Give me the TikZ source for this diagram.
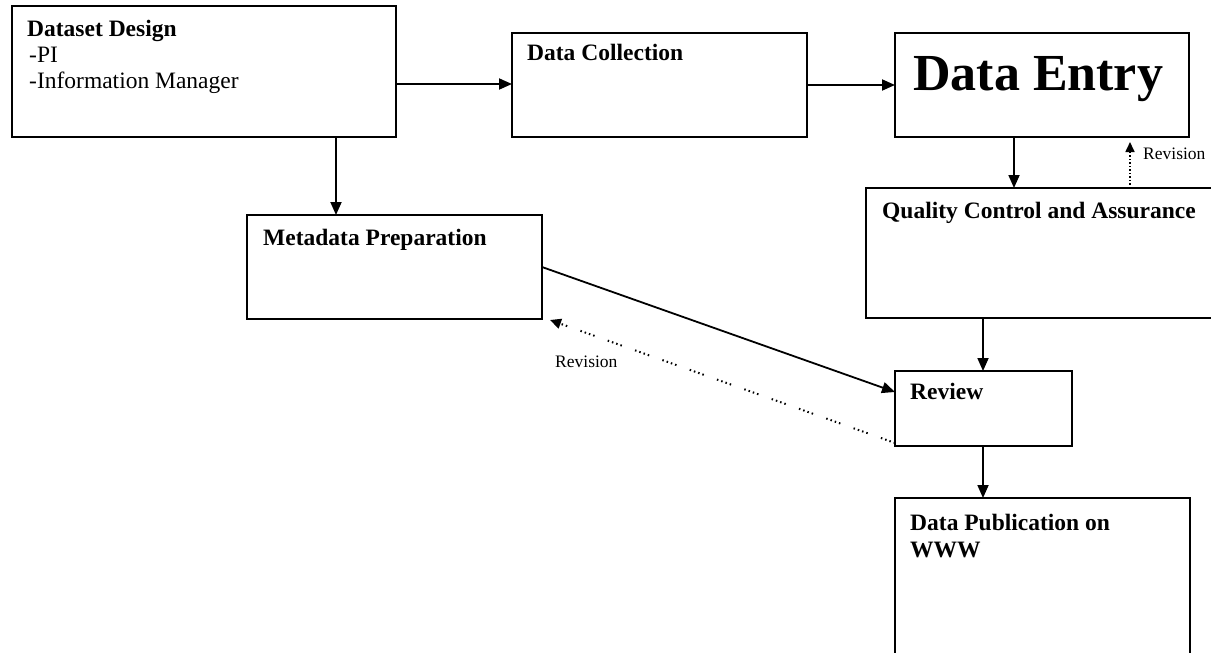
\documentclass[tikz,border=0pt]{standalone}
\usepackage{fontspec}
\setmainfont{Liberation Serif}
\usetikzlibrary{arrows.meta}

\tikzset{
	box/.style={draw, line width=2pt, anchor=north west, inner sep=0pt, outer sep=0pt},
	ttl/.style={font=\fontsize{23.5}{27}\selectfont\bfseries, anchor=base west, inner sep=0pt},
	txt/.style={font=\fontsize{23.5}{27}\selectfont, anchor=base west, inner sep=0pt},
	revtxt/.style={font=\fontsize{17.5}{20}\selectfont, anchor=base west, inner sep=0pt},
	arr/.style={line width=1.8pt, -{Triangle[length=13pt,width=11pt]}},
	revarr/.style={line width=1.6pt, dash pattern=on 1.5pt off 2pt, -{Triangle[length=10pt,width=9pt]}},
	revback/.style={line width=2pt, dash pattern=on 1.5pt off 3pt on 1.5pt off 3pt on 1.5pt off 3pt on 1.5pt off 14pt, -{Triangle[length=11pt,width=10pt]}}
}

\begin{document}
\begin{tikzpicture}[x=1pt, y=-1pt]
			\useasboundingbox (0,0) rectangle (1211,653);
			
			\node[box, minimum width=384pt, minimum height=131pt] (dd) at (12,6) {};
			\node[box, minimum width=295pt, minimum height=104pt] (dc) at (512,33) {};
			\node[box, minimum width=294pt, minimum height=104pt] (de) at (895,33) {};
			\node[box, minimum width=354pt, minimum height=130pt] (qc) at (866,188) {};
			\node[box, minimum width=295pt, minimum height=104pt] (mp) at (247,215) {};
			\node[box, minimum width=177pt, minimum height=75pt] (rv) at (895,371) {};
			\node[box, minimum width=295pt, minimum height=167pt] (pub) at (895,498) {};
			
			\node[ttl] (ddT) at (27,36) {Dataset Design};
			\node[txt] (ddA) at (29,62) {-PI};
			\node[txt] (ddB) at (29,88) {-Information Manager};
			\node[ttl] (dcT) at (527,60) {Data Collection};
			\node[ttl, font=\fontsize{52}{60}\selectfont\bfseries] (deT) at (913,90) {Data Entry};
			\node[ttl] (qcT) at (882,218) {Quality Control and Assurance};
			\node[ttl] (mpT) at (263,245) {Metadata Preparation};
			\node[ttl] (rvT) at (910,399) {Review};
			\node[ttl] (pubT) at (910,530) {Data Publication on};
			\node[ttl] (pubW) at (910,557) {WWW};
			\node[revtxt] (rev1) at (1143,159) {Revision};
			\node[revtxt] (rev2) at (555,367) {Revision};
			
			\draw[arr] ([yshift=-78pt]dd.north east) coordinate (p1) -- (p1 -| dc.west);
			\draw[arr] (dc.east) -- (de.west);
			\draw[arr] ([xshift=324pt]dd.south west) coordinate (p2) -- (p2 |- mp.north);
			\draw[arr] ([xshift=119pt]de.south west) coordinate (p3) -- (p3 |- qc.north);
			\coordinate (p4) at ([xshift=264pt]qc.north west);
			\path (p4 |- de.south) coordinate (q4);
			\draw[revarr] (p4) -- ([yshift=-5pt]q4);
			\draw[arr] ([xshift=117pt]qc.south west) coordinate (p5) -- (p5 |- rv.north);
			\draw[arr] ([xshift=88pt]rv.south west) coordinate (p6) -- (p6 |- pub.north);
			\draw[arr] ([yshift=-52pt]mp.north east) -- ([yshift=-21pt]rv.north west);
			\draw[revback] ([yshift=3pt]rv.south west) -- ([xshift=8pt,yshift=-1pt]mp.south east);
			
		\end{tikzpicture}
\end{document}
